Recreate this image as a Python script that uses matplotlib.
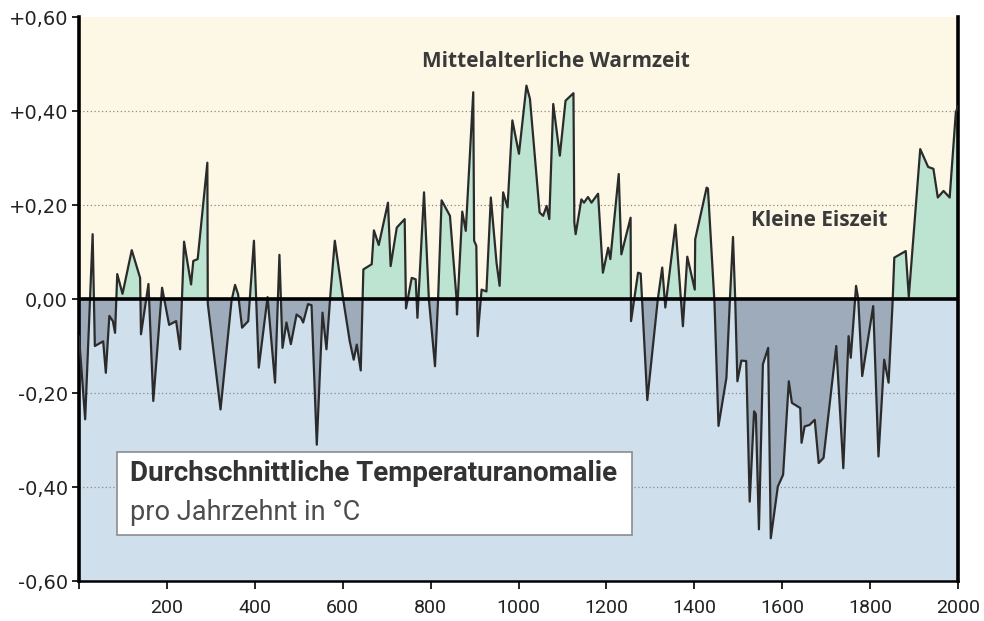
import numpy as np
import matplotlib
matplotlib.use("Agg")
import matplotlib.pyplot as plt
from matplotlib.patches import Rectangle

# Decadal temperature anomaly, vertex years and values in °C
years = [0, 14, 31, 36, 55, 61, 69, 77, 82, 87, 99, 120, 139, 141, 158, 169, 189, 205, 221, 230,
         239, 255, 260, 270, 292, 293, 322, 347, 355, 362, 371, 385, 398, 409, 429, 446, 456, 463,
         472, 482, 495, 505, 510, 521, 529, 541, 554, 563, 572, 582, 601, 616, 625, 632, 641, 647,
         666, 671, 682, 703, 709, 723, 741, 744, 757, 766, 770, 785, 796, 810, 817, 825, 844, 859,
         860, 872, 880, 897, 899, 904, 907, 916, 927, 937, 950, 957, 965, 975, 986, 1001, 1018,
         1026, 1048, 1056, 1064, 1070, 1079, 1094, 1107, 1125, 1127, 1130, 1143, 1149, 1158, 1166,
         1181, 1192, 1204, 1209, 1228, 1234, 1255, 1256, 1272, 1278, 1293, 1317, 1327, 1334, 1357,
         1374, 1384, 1401, 1402, 1428, 1431, 1446, 1455, 1473, 1481, 1488, 1493, 1498, 1507, 1518,
         1526, 1536, 1540, 1547, 1556, 1568, 1574, 1590, 1602, 1615, 1622, 1641, 1644, 1651, 1662,
         1674, 1683, 1694, 1723, 1739, 1751, 1756, 1768, 1773, 1782, 1807, 1819, 1832, 1842, 1851,
         1855, 1881, 1888, 1914, 1932, 1944, 1954, 1967, 1981, 1995, 2000]
anomaly = [-0.08, -0.256, 0.138, -0.10, -0.09, -0.157, -0.036, -0.047, -0.072, 0.053, 0.011, 0.104,
           0.045, -0.075, 0.032, -0.217, 0.024, -0.055, -0.047, -0.107, 0.122, 0.031, 0.081, 0.085,
           0.29, -0.01, -0.235, -0.004, 0.03, 0.01, -0.061, -0.047, 0.124, -0.146, 0.004, -0.178,
           0.094, -0.104, -0.05, -0.096, -0.033, -0.04, -0.05, -0.011, -0.013, -0.31, -0.029, -0.107,
           0.01, 0.124, 0.0, -0.09, -0.129, -0.097, -0.152, 0.063, 0.074, 0.146, 0.115, 0.205, 0.07,
           0.152, 0.17, -0.02, 0.045, 0.042, -0.04, 0.227, 0.0, -0.143, 0.0, 0.21, 0.177, 0.0,
           -0.033, 0.186, 0.145, 0.44, 0.124, 0.113, -0.079, 0.02, 0.016, 0.216, 0.077, 0.028, 0.227,
           0.195, 0.38, 0.309, 0.454, 0.426, 0.184, 0.177, 0.198, 0.17, 0.415, 0.305, 0.422, 0.438,
           0.163, 0.138, 0.212, 0.205, 0.217, 0.205, 0.224, 0.056, 0.109, 0.085, 0.266, 0.095, 0.173,
           -0.047, 0.056, 0.054, -0.215, 0.0, 0.067, -0.018, 0.158, -0.058, 0.09, 0.02, 0.127, 0.237,
           0.235, -0.01, -0.27, -0.168, 0.0, 0.132, 0.0, -0.175, -0.131, -0.132, -0.431, -0.239,
           -0.245, -0.49, -0.139, -0.104, -0.509, -0.399, -0.374, -0.175, -0.221, -0.232, -0.306,
           -0.271, -0.268, -0.257, -0.349, -0.338, -0.1, -0.36, -0.079, -0.125, 0.028, 0.0, -0.164,
           -0.015, -0.335, -0.129, -0.178, -0.01, 0.088, 0.102, 0.005, 0.319, 0.281, 0.277, 0.216,
           0.23, 0.216, 0.397, 0.41]

y_ticks = [-0.6, -0.4, -0.2, 0.0, 0.2, 0.4, 0.6]
y_labels = ["-0,60", "-0,40", "-0,20", "0,00", "+0,20", "+0,40", "+0,60"]
x_ticks = list(range(0, 2001, 200))
x_labels = [""] + [str(t) for t in x_ticks[1:]]

plt.rcParams['font.family'] = ['Roboto', 'DejaVu Sans']

x = np.array(years, dtype=float)
y = np.array(anomaly)

fig = plt.figure(figsize=(9.84, 6.21), dpi=100)
ax = fig.add_axes([0.0803, 0.0644, 0.8933, 0.9082])

# background halves
ax.axhspan(0, 0.6, color="#fdf8e6", zorder=0)
ax.axhspan(-0.6, 0, color="#cfdfec", zorder=0)

for g in [-0.4, -0.2, 0.2, 0.4]:
    ax.axhline(g, color="#8a8a8a", lw=0.9, ls=(0, (1, 2)), zorder=1)

ax.fill_between(x, y, 0, where=y >= 0, interpolate=True, color="#bde3d1", lw=0, zorder=2)
ax.fill_between(x, y, 0, where=y <= 0, interpolate=True, color="#9eabbb", lw=0, zorder=2)
ax.plot(x, y, color="#2b2b2b", lw=1.6, zorder=3)
ax.axhline(0, color="black", lw=2.6, zorder=4)

ax.set_xlim(0, 2000)
ax.set_ylim(-0.6, 0.6)
ax.set_yticks(y_ticks)
ax.set_yticklabels(y_labels, fontfamily="DejaVu Sans", fontsize=14)
ax.set_xticks(x_ticks)
ax.set_xticklabels(x_labels, fontsize=14)
ax.tick_params(axis="y", direction="out", length=5, width=1.2, colors="black", pad=3)
ax.tick_params(axis="x", direction="out", length=6, width=1.2, colors="black", pad=7)
for lab in ax.get_yticklabels() + ax.get_xticklabels():
    lab.set_color("#222222")

ax.spines["top"].set_visible(False)
ax.spines["left"].set_linewidth(2.6)
ax.spines["right"].set_linewidth(2.6)
ax.spines["bottom"].set_linewidth(1.8)

ax.text(1085, 0.505, "Mittelalterliche Warmzeit", ha="center", va="center",
        fontsize=15, fontweight="bold", fontfamily="Open Sans", color="#3a3a3a", zorder=5)
ax.text(1685, 0.168, "Kleine Eiszeit", ha="center", va="center",
        fontsize=15, fontweight="bold", fontfamily="Open Sans", color="#3a3a3a", zorder=5)

# caption box
fig.patches.append(Rectangle((0.1189, 0.1385), 0.5234, 0.1337, transform=fig.transFigure,
                             facecolor="white", edgecolor="#8c8c8c", lw=1.2, zorder=5))
fig.text(0.132, 0.2383, "Durchschnittliche Temperaturanomalie", ha="left", va="center",
         fontsize=20, fontweight="bold", color="#333333", zorder=6)
fig.text(0.132, 0.1755, "pro Jahrzehnt in °C", ha="left", va="center",
         fontsize=19.5, color="#4d4d4d", zorder=6)

fig.savefig("out.png", dpi=100, facecolor="white")
